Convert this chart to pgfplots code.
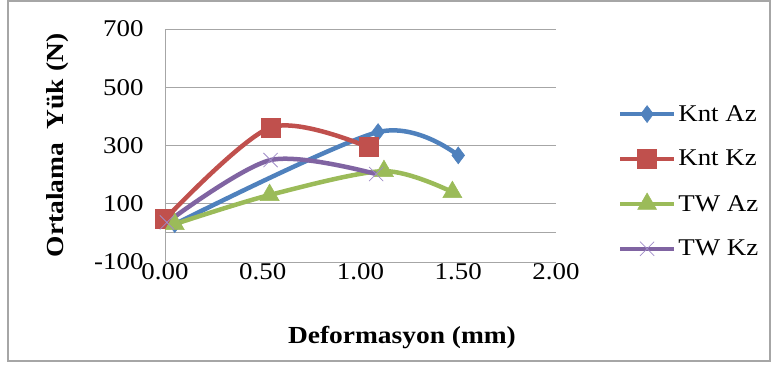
\documentclass[border=0pt]{standalone}
\usepackage{fontspec}
\setmainfont{Liberation Serif}[FakeStretch=1.12]
\usepackage{pgfplots}
\pgfplotsset{compat=1.18}
\definecolor{cblue}{HTML}{4F81BD}
\definecolor{cred}{HTML}{C0504D}
\definecolor{cgreen}{HTML}{9BBB59}
\definecolor{cpurple}{HTML}{8064A2}
\definecolor{cxmark}{HTML}{A08CC8}
\begin{document}
\begin{tikzpicture}[x=1pt,y=1pt]
\path[use as bounding box] (0,0) rectangle (777,367);
\draw[gray!70, line width=1.5pt] (8,6) rectangle (770,366);
\begin{axis}[
  at={(165pt,105pt)}, anchor=south west,
  scale only axis, width=391pt, height=233pt,
  xmin=0, xmax=2, ymin=-100, ymax=700,
  xtick={0,0.5,1,1.5,2},
  ytick={-100,100,300,500,700},
  extra y ticks={0}, extra y tick labels={},
  extra y tick style={grid=major},
  ymajorgrids,
  grid style={gray!70, line width=0.8pt},
  axis lines=left,
  axis line style={-, gray!70, line width=0.8pt},
  major tick length=0pt,
  /pgf/number format/assume math mode=true,
  xticklabel={\pgfmathprintnumber[fixed,fixed zerofill,precision=2]{\tick}},
  yticklabel={\pgfmathprintnumber[fixed]{\tick}},
  ticklabel style={font=\fontsize{24}{28}\selectfont},
  yticklabel style={xshift=-18pt},
  xticklabel style={yshift=2pt},
  xlabel={\textbf{Deformasyon (mm)}},
  ylabel={\textbf{Ortalama\ \ Yük (N)}},
  label style={font=\fontsize{24.5}{28}\selectfont},
  xlabel style={at={(axis description cs:0.606,-0.326)}, anchor=center},
  ylabel style={at={(axis description cs:-0.274,0.5)}, anchor=center},
  legend style={draw=none, fill=none, at={(axis description cs:1.15,0.69)}, anchor=north west,
    font=\fontsize{24}{28}\selectfont, row sep=23.5pt},
  legend cell align=left,
  legend image code/.code={\draw[mark repeat=2,mark phase=2] plot coordinates {(0pt,0pt) (27pt,0pt) (54pt,0pt)};},
  clip=false,
]
\addplot[cblue, line width=4.5pt, smooth, tension=0.5, mark=diamond*, mark size=8.5pt, mark options={solid, line width=0.5pt, fill=cblue}]
  coordinates {(0.05,30) (1.09,346) (1.50,266)};
\addlegendentry{Knt Az}
\addplot[cred, line width=4.5pt, smooth, tension=0.5, mark=square*, mark size=9.5pt, mark options={solid, line width=0.5pt, fill=cred}]
  coordinates {(0.0,47) (0.54,362) (1.04,294)};
\addlegendentry{Knt Kz}
\addplot[cgreen, line width=4.5pt, smooth, tension=0.5, mark=triangle*, mark size=11pt, mark options={solid, line width=0.5pt, fill=cgreen}]
  coordinates {(0.05,30) (0.535,130) (1.12,212) (1.47,140)};
\addlegendentry{TW Az}
\addplot[cpurple, line width=4.5pt, smooth, tension=0.5, mark=x, mark size=10pt, mark options={solid, line width=0.8pt, draw=cxmark}]
  coordinates {(0.01,36) (0.54,250) (1.08,202)};
\addlegendentry{TW Kz}
\end{axis}
\end{tikzpicture}
\end{document}
